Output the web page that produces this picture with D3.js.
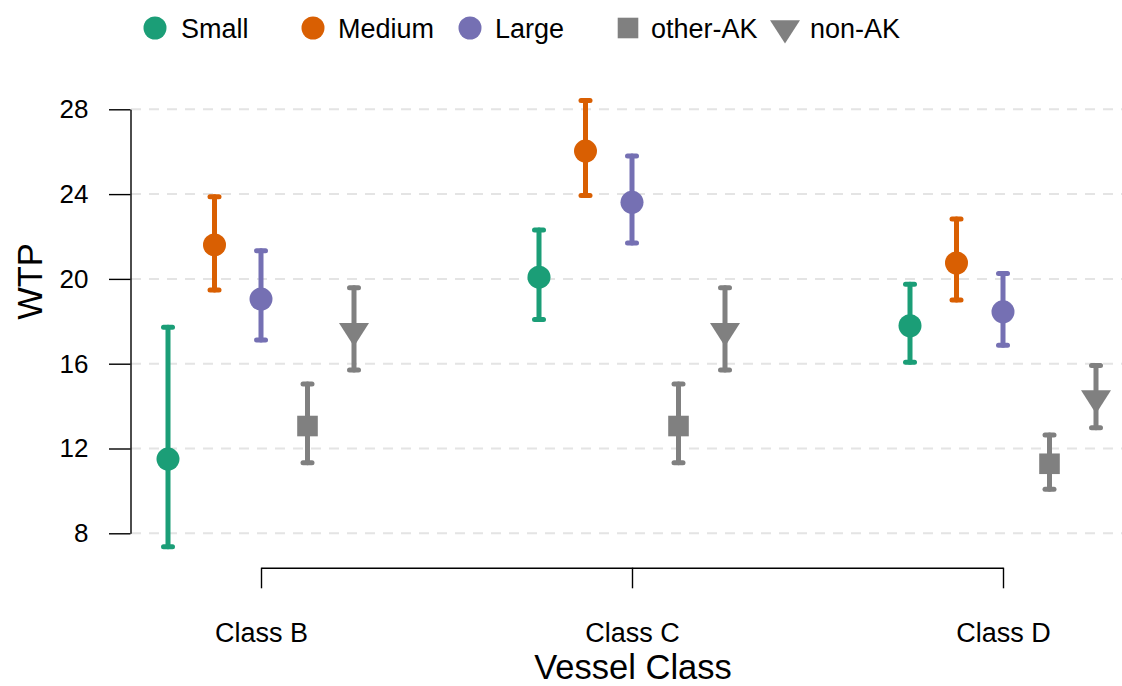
<!DOCTYPE html>
<html>
<head>
<meta charset="utf-8">
<script src="https://cdn.jsdelivr.net/npm/d3@7"></script>
<style>
  html, body { margin: 0; padding: 0; background: #fff; }
  svg { display: block; font-family: "Liberation Sans", Arial, Helvetica, sans-serif; }
</style>
</head>
<body>
<svg id="chart" width="1122" height="686"></svg>
<script>
// Vessel classes on the x axis and the five respondent groups drawn within each
const classes = ["Class B", "Class C", "Class D"];
const groups = ["Small", "Medium", "Large", "other-AK", "non-AK"];

// Willingness-to-pay estimates per group, one value per vessel class
const wtpSmall  = [11.50, 20.08, 17.79];
const wtpMedium = [21.60, 26.03, 20.75];
const wtpLarge  = [19.05, 23.61, 18.45];
const wtpOther  = [13.06, 13.06, 11.28];
const wtpNon    = [17.55, 17.55, 14.38];

// Lower and upper interval bounds
const lowSmall  = [7.37, 18.09, 16.07];
const lowMedium = [19.48, 23.93, 19.00];
const lowLarge  = [17.12, 21.69, 16.87];
const lowOther  = [11.33, 11.33, 10.08];
const lowNon    = [15.70, 15.70, 12.98];

const upSmall  = [17.72, 22.31, 19.75];
const upMedium = [23.88, 28.42, 22.83];
const upLarge  = [21.33, 25.80, 20.26];
const upOther  = [15.04, 15.04, 12.64];
const upNon    = [19.58, 19.58, 15.92];

const yTicks = [8, 12, 16, 20, 24, 28];

const groupColors = ["#1B9E77", "#D95F02", "#7570B3", "#808080", "#808080"];
const groupShapes = ["circle", "circle", "circle", "square", "triangle"];

const means = [wtpSmall, wtpMedium, wtpLarge, wtpOther, wtpNon];
const lows = [lowSmall, lowMedium, lowLarge, lowOther, lowNon];
const ups = [upSmall, upMedium, upLarge, upOther, upNon];

const rows = [];
groups.forEach((g, gi) => {
  classes.forEach((c, ci) => {
    rows.push({ group: g, gi, cls: c, mean: means[gi][ci], lo: lows[gi][ci], hi: ups[gi][ci] });
  });
});

const svg = d3.select("#chart");

const x = d3.scalePoint().domain(classes).range([261, 1003]);
const dodge = d3.scalePoint().domain(groups).range([-93, 93]);
const y = d3.scaleLinear().domain([8, 28]).range([533.3, 109.3]);
const color = d3.scaleOrdinal().domain(groups).range(groupColors);
const shape = d3.scaleOrdinal().domain(groups).range(groupShapes);

// dashed horizontal guides
svg.append("g")
  .selectAll("line")
  .data(yTicks)
  .join("line")
  .attr("x1", 131)
  .attr("x2", 1122)
  .attr("y1", d => y(d))
  .attr("y2", d => y(d))
  .attr("stroke", "#e4e4e4")
  .attr("stroke-width", 2)
  .attr("stroke-dasharray", "10,8");

// y axis
const yAxis = svg.append("g")
  .attr("transform", "translate(130.5,0)")
  .call(d3.axisLeft(y).tickValues(yTicks).tickSize(21.5).tickSizeOuter(0).tickPadding(20.5));
yAxis.select(".domain").attr("stroke", "#000").attr("stroke-width", 1.4);
yAxis.selectAll(".tick line").attr("stroke", "#000").attr("stroke-width", 1.4);
yAxis.selectAll(".tick text")
  .attr("fill", "#000")
  .style("font-size", "26px")
  .style("font-family", "'Liberation Sans', Arial, sans-serif");

// x axis
const xAxis = svg.append("g")
  .attr("transform", "translate(0,567.7)")
  .call(d3.axisBottom(x).tickSize(20.6).tickSizeOuter(0));
xAxis.select(".domain").attr("stroke", "#000").attr("stroke-width", 1.4);
xAxis.selectAll(".tick line").attr("stroke", "#000").attr("stroke-width", 1.4);
xAxis.selectAll(".tick text")
  .attr("fill", "#000")
  .attr("y", 74)
  .attr("dy", 0)
  .style("font-size", "27px")
  .style("font-family", "'Liberation Sans', Arial, sans-serif");

// axis titles
svg.append("text")
  .attr("x", 633)
  .attr("y", 678.5)
  .attr("text-anchor", "middle")
  .style("font-size", "34.5px")
  .text("Vessel Class");

svg.append("text")
  .attr("transform", "translate(42,281.5) rotate(-90)")
  .attr("text-anchor", "middle")
  .style("font-size", "34.5px")
  .text("WTP");

// interval bars
const bars = svg.append("g")
  .selectAll("g")
  .data(rows)
  .join("g")
  .attr("stroke", d => color(d.group))
  .attr("stroke-width", 5)
  .attr("stroke-linecap", "round");

bars.append("line")
  .attr("x1", d => x(d.cls) + dodge(d.group))
  .attr("x2", d => x(d.cls) + dodge(d.group))
  .attr("y1", d => y(d.lo))
  .attr("y2", d => y(d.hi));

bars.each(function(d) {
  const cx = x(d.cls) + dodge(d.group);
  [d.lo, d.hi].forEach(v => {
    d3.select(this).append("line")
      .attr("x1", cx - 4.5)
      .attr("x2", cx + 4.5)
      .attr("y1", y(v))
      .attr("y2", y(v));
  });
});

// point markers
function drawMarker(sel, kind, cx, cy, fill) {
  if (kind === "circle") {
    sel.append("circle").attr("cx", cx).attr("cy", cy).attr("r", 11.5).attr("fill", fill);
  } else if (kind === "square") {
    sel.append("rect").attr("x", cx - 10.3).attr("y", cy - 10.3)
      .attr("width", 20.6).attr("height", 20.6).attr("fill", fill);
  } else {
    const p = d3.path();
    p.moveTo(cx - 15, cy - 7.8);
    p.lineTo(cx + 15, cy - 7.8);
    p.lineTo(cx, cy + 15.6);
    p.closePath();
    sel.append("path").attr("d", p.toString()).attr("fill", fill);
  }
}

const pts = svg.append("g");
rows.forEach(d => {
  drawMarker(pts, shape(d.group), x(d.cls) + dodge(d.group), y(d.mean), color(d.group));
});

// legend
const legendX = [155, 313, 470, 628, 785];
const legendTextX = [181, 338, 495, 651, 810];
const legend = svg.append("g");
groups.forEach((g, i) => {
  drawMarker(legend, shape(g), legendX[i], 28, color(g));
  legend.append("text")
    .attr("x", legendTextX[i])
    .attr("y", 37.5)
    .style("font-size", "27px")
    .attr("fill", "#000")
    .text(g);
});
</script>
</body>
</html>
